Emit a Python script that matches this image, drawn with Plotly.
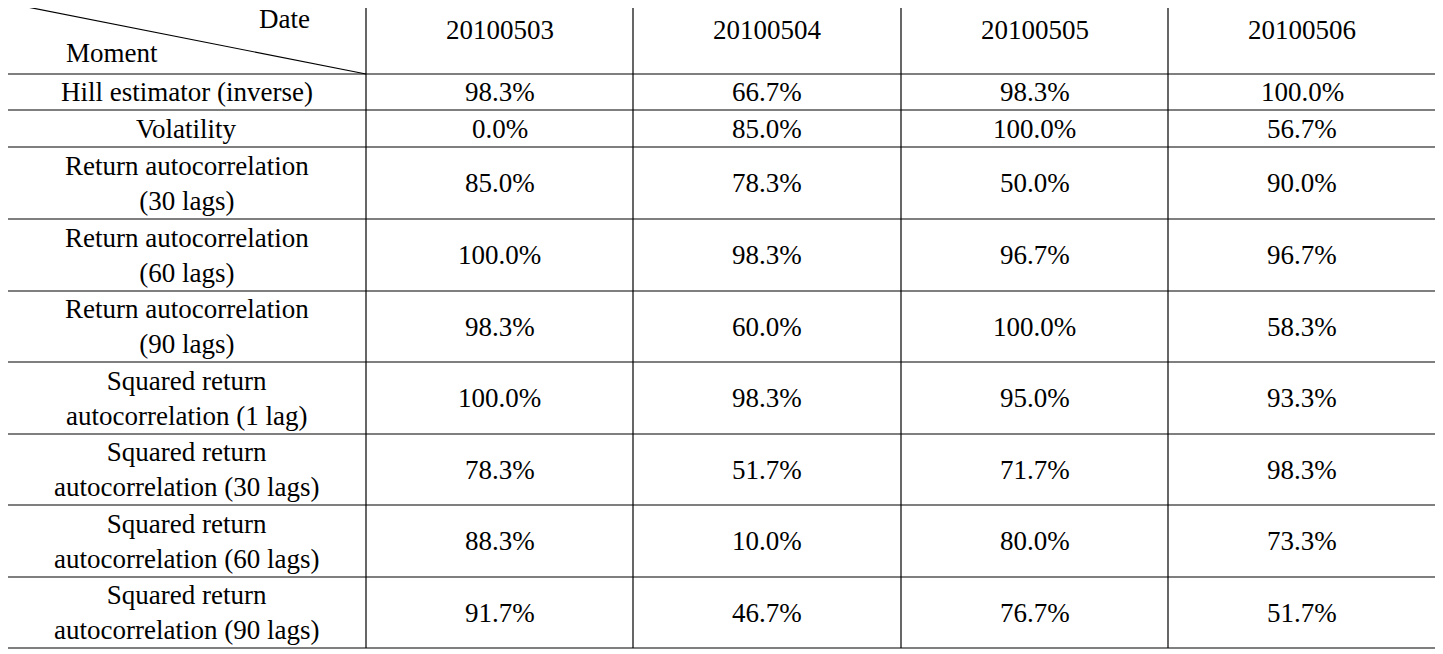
import plotly.graph_objects as go

dates = ["20100503", "20100504", "20100505", "20100506"]
moments = ["Hill estimator (inverse)", "Volatility", "Return autocorrelation<br>(30 lags)",
           "Return autocorrelation<br>(60 lags)", "Return autocorrelation<br>(90 lags)",
           "Squared return<br>autocorrelation (1 lag)", "Squared return<br>autocorrelation (30 lags)",
           "Squared return<br>autocorrelation (60 lags)", "Squared return<br>autocorrelation (90 lags)"]
v20100503 = ["98.3%", "0.0%", "85.0%", "100.0%", "98.3%", "100.0%", "78.3%", "88.3%", "91.7%"]
v20100504 = ["66.7%", "85.0%", "78.3%", "98.3%", "60.0%", "98.3%", "51.7%", "10.0%", "46.7%"]
v20100505 = ["98.3%", "100.0%", "50.0%", "96.7%", "100.0%", "95.0%", "71.7%", "80.0%", "76.7%"]
v20100506 = ["100.0%", "56.7%", "90.0%", "96.7%", "58.3%", "93.3%", "98.3%", "73.3%", "51.7%"]
cols = [v20100503, v20100504, v20100505, v20100506]

OFF = 8  # page body margin
xb = [x - OFF for x in [7, 366, 633, 901, 1168, 1436]]
yb = [y - OFF for y in [3, 74, 110, 147, 219, 291, 362, 434, 505, 577, 648]]
F = dict(family="Liberation Serif", size=27, color="black")

fig = go.Figure()
shapes = []
for x in xb:
    shapes.append(dict(type="line", x0=x, x1=x, y0=yb[0], y1=yb[-1], line=dict(color="black", width=1.2)))
for y in yb:
    shapes.append(dict(type="line", x0=xb[0], x1=xb[-1], y0=y, y1=y, line=dict(color="black", width=1.2)))
shapes.append(dict(type="line", x0=xb[0], x1=xb[1], y0=yb[0], y1=yb[1], line=dict(color="black", width=1.2)))

ann = [dict(x=284 - OFF, y=19 - OFF, text="Date"), dict(x=112 - OFF, y=53 - OFF, text="Moment")]
for j, d in enumerate(dates):
    ann.append(dict(x=(xb[j+1]+xb[j+2])/2, y=(yb[0]+yb[1])/2 - 9, text=d))
for i, m in enumerate(moments):
    yc = (yb[i+1]+yb[i+2])/2
    ann.append(dict(x=(xb[0]+xb[1])/2, y=yc, text=m))
    for j, c in enumerate(cols):
        ann.append(dict(x=(xb[j+1]+xb[j+2])/2, y=yc, text=c[i]))
for a in ann:
    a.update(xref="x", yref="y", showarrow=False, font=F, xanchor="center", yanchor="middle")

fig.update_layout(width=1435, height=646, margin=dict(l=0, r=0, t=0, b=0),
                  plot_bgcolor="white", paper_bgcolor="white", shapes=shapes, annotations=ann,
                  xaxis=dict(range=[0, 1435], visible=False),
                  yaxis=dict(range=[646, 0], visible=False), showlegend=False)
fig.write_html("out.html")
